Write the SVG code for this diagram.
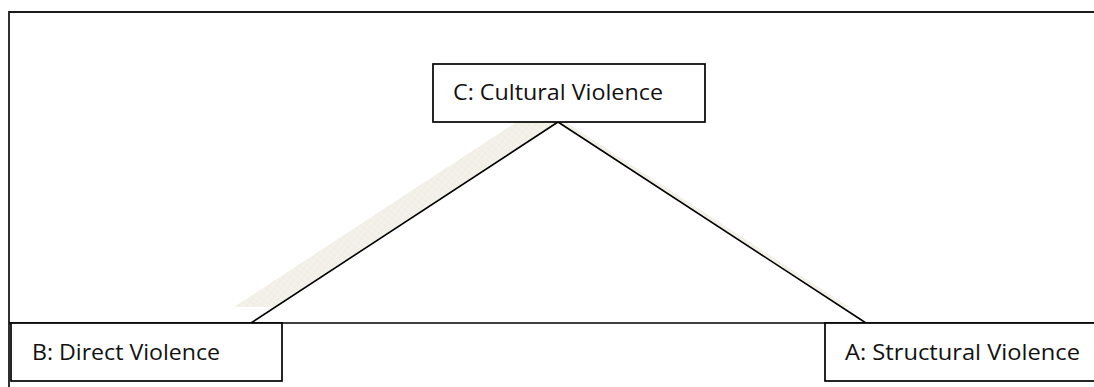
<svg xmlns="http://www.w3.org/2000/svg" width="1094" height="387" viewBox="0 0 1094 387">
  <defs>
    <style>
      .frame { fill: none; stroke: #1a1a1a; stroke-width: 1.8; }
      .box { fill: #ffffff; stroke: #000000; stroke-width: 1.7; }
      .leg { fill: none; stroke: #000000; stroke-width: 1.6; }
      .label { font-family: "Open Sans", "Liberation Sans", Arial, sans-serif; font-size: 21px; fill: #111111; }
    </style>
    <!-- faint cross-hatched fill used for the drop shadow of the triangle -->
    <pattern id="hatch" width="5" height="5" patternUnits="userSpaceOnUse" patternTransform="rotate(40)">
      <rect width="5" height="5" fill="#f3f1e9"/>
      <path d="M0,0 H5 M0,0 V5" stroke="#ebe8dc" stroke-width="0.8"/>
    </pattern>
  </defs>

  <rect width="1094" height="387" fill="#ffffff"/>

  <!-- page frame, running off the right and bottom edges -->
  <path class="frame" d="M9,400 V12 H1100"/>

  <!-- triangle shadow, offset up and to the left -->
  <polygon points="234,307 541,106 849,307" fill="url(#hatch)"/>

  <g id="connectors">
    <!-- white body of the triangle hides the shadow inside it -->
    <polygon points="251,323 558,122 866,323" fill="#ffffff"/>
    <line class="leg" x1="251" y1="323" x2="558" y2="122"/>
    <line class="leg" x1="558" y1="122" x2="866" y2="323"/>
    <line class="leg" x1="9" y1="323" x2="1100" y2="323"/>
  </g>

  <g id="node-c">
    <rect class="box" x="433" y="64" width="272" height="58"/>
    <text class="label" x="453" y="100" textLength="210" lengthAdjust="spacingAndGlyphs">C: Cultural Violence</text>
  </g>

  <g id="node-b">
    <rect class="box" x="11" y="323" width="271" height="58"/>
    <text class="label" x="32" y="360" textLength="188" lengthAdjust="spacingAndGlyphs">B: Direct Violence</text>
  </g>

  <g id="node-a">
    <rect class="box" x="825" y="323" width="300" height="58"/>
    <text class="label" x="845" y="360" textLength="235" lengthAdjust="spacingAndGlyphs">A: Structural Violence</text>
  </g>
</svg>
